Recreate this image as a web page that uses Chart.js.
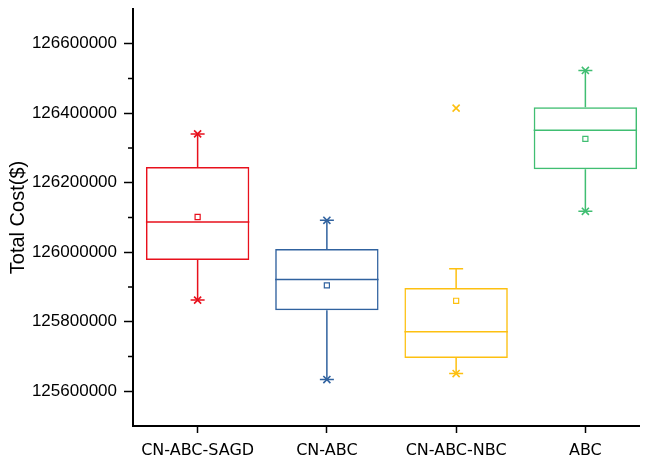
<!DOCTYPE html>
<html>
<head>
<meta charset="utf-8">
<title>Total Cost box chart</title>
<script src="https://cdn.jsdelivr.net/npm/chart.js@4.4.1/dist/chart.umd.min.js"></script>
<style>
  html, body { margin: 0; padding: 0; background: #fff; }
  .chart-wrap { position: relative; width: 646px; height: 461px; }
</style>
</head>
<body>
<div class="chart-wrap"><canvas id="costChart"></canvas></div>
<script>
/* ======================================================================
DATA
====================================================================== */
const categories = ['CN-ABC-SAGD', 'CN-ABC', 'CN-ABC-NBC', 'ABC'];
const q1Values = [125977500, 125833400, 125696000, 126238900];
const q3Values = [126245500, 126009200, 125896800, 126417600];
const medianValues = [126087000, 125921900, 125770900, 126351300];
const meanValues = [126101400, 125904600, 125860300, 126326200];
const whiskerLow = [125862300, 125633700, 125651000, 126117900];
const whiskerHigh = [126340600, 126091900, 125952500, 126523100];
// x markers (1% / 99% style) - the NBC top one sits above its whisker
const upperMarks = [126340600, 126091900, 126414700, 126523100];
const lowerMarks = [125862300, 125633700, 125651000, 126117900];
const majorTicks = [125600000, 125800000, 126000000, 126200000, 126400000, 126600000];
const minorTicks = [125700000, 125900000, 126100000, 126300000, 126500000];

const colors = ['#e8101c', '#30629f', '#fdc010', '#40be72'];

/* ======================================================================
Plugins
====================================================================== */
// the category range runs a little past the canvas edge in the original
const widenX = {
  id: 'widenX',
  afterLayout(chart) {
    const xs = chart.scales.x;
    xs.right += 4;
    xs.width += 4;
    chart.chartArea.right += 4;
    chart.chartArea.width += 4;
    xs.configure();
  }
};

// medians, whiskers, caps, minor y ticks, bottom axis line
const boxParts = {
  id: 'boxParts',
  afterDatasetsDraw(chart) {
    const ctx = chart.ctx;
    const xs = chart.scales.x;
    const ys = chart.scales.y;
    const boxes = chart.getDatasetMeta(0).data;
    ctx.save();
    ctx.lineWidth = 1.5;
    categories.forEach((cat, i) => {
      const cx = xs.getPixelForValue(i);
      const half = boxes[i].width / 2;
      const capHalf = 7;
      const med = ys.getPixelForValue(medianValues[i]);
      const top = ys.getPixelForValue(q3Values[i]);
      const bot = ys.getPixelForValue(q1Values[i]);
      const hi = ys.getPixelForValue(whiskerHigh[i]);
      const lo = ys.getPixelForValue(whiskerLow[i]);
      ctx.strokeStyle = colors[i];
      ctx.beginPath();
      ctx.moveTo(cx - half, med);
      ctx.lineTo(cx + half, med);
      ctx.moveTo(cx, top);
      ctx.lineTo(cx, hi);
      ctx.moveTo(cx, bot);
      ctx.lineTo(cx, lo);
      ctx.moveTo(cx - capHalf, hi);
      ctx.lineTo(cx + capHalf, hi);
      ctx.moveTo(cx - capHalf, lo);
      ctx.lineTo(cx + capHalf, lo);
      ctx.stroke();
    });
    const area = chart.chartArea;
    ctx.strokeStyle = '#000';
    ctx.lineWidth = 1.5;
    ctx.beginPath();
    minorTicks.forEach(v => {
      const py = ys.getPixelForValue(v);
      ctx.moveTo(area.left - 5, py);
      ctx.lineTo(area.left, py);
    });
    ctx.stroke();
    ctx.lineWidth = 2;
    ctx.beginPath();
    ctx.moveTo(area.left - 1, area.bottom);
    ctx.lineTo(area.right - 10, area.bottom);
    ctx.stroke();
    ctx.restore();
  }
};

/* ======================================================================
Chart
====================================================================== */
const costCanvas = document.getElementById('costChart');

let costData = {
  labels: categories,
  datasets: [{
    type: 'bar',
    data: categories.map((c, i) => [q1Values[i], q3Values[i]]),
    backgroundColor: 'rgba(255, 255, 255, 0)',
    borderColor: colors,
    borderWidth: 1.5,
    borderSkipped: false,
    barPercentage: 0.8,
    categoryPercentage: 1
  }, {
    type: 'line',
    data: meanValues,
    showLine: false,
    pointStyle: 'rect',
    pointRadius: 3.6,
    pointBorderWidth: 1.2,
    pointBorderColor: colors,
    pointBackgroundColor: '#fff'
  }, {
    type: 'line',
    data: upperMarks,
    showLine: false,
    pointStyle: 'crossRot',
    pointRadius: 5,
    pointBorderWidth: 1.6,
    pointBorderColor: colors
  }, {
    type: 'line',
    data: lowerMarks,
    showLine: false,
    pointStyle: 'crossRot',
    pointRadius: 5,
    pointBorderWidth: 1.6,
    pointBorderColor: colors
  }]
};

let costOptions = {
  responsive: true,
  maintainAspectRatio: false,
  animation: false,
  layout: {
    autoPadding: false,
    padding: { top: 9, right: 0, bottom: 0, left: 0 }
  },
  plugins: {
    legend: { display: false },
    tooltip: { enabled: false }
  },
  scales: {
    x: {
      offset: true,
      grid: {
        drawOnChartArea: false,
        offset: false,
        tickLength: 7,
        tickWidth: 1.5,
        tickColor: '#000'
      },
      border: { display: false },
      ticks: {
        color: '#000',
        font: { family: 'DejaVu Sans', size: 16 },
        padding: 8,
        maxRotation: 0,
        autoSkip: false
      },
      afterFit(scale) {
        scale.height = 35;
        scale.paddingLeft = 0;
        scale.paddingRight = 0;
      }
    },
    y: {
      min: 125500000,
      max: 126700000,
      grid: {
        drawOnChartArea: false,
        tickLength: 9,
        tickWidth: 1.5,
        tickColor: '#000'
      },
      border: { color: '#000', width: 2 },
      ticks: {
        color: '#000',
        font: { family: 'Liberation Sans', size: 17 },
        padding: 7,
        callback: v => String(v)
      },
      afterBuildTicks(scale) {
        scale.ticks = majorTicks.map(v => ({ value: v }));
      },
      title: {
        display: true,
        text: 'Total Cost($)',
        color: '#000',
        font: { family: 'Liberation Sans', size: 20 },
        padding: { top: 6, bottom: 0 }
      },
      afterFit(scale) {
        scale.width = 133;
        scale.paddingTop = 0;
        scale.paddingBottom = 0;
      }
    }
  }
};

let costChart = new Chart(costCanvas, {
  type: 'bar',
  data: costData,
  options: costOptions,
  plugins: [widenX, boxParts]
});
</script>
</body>
</html>
